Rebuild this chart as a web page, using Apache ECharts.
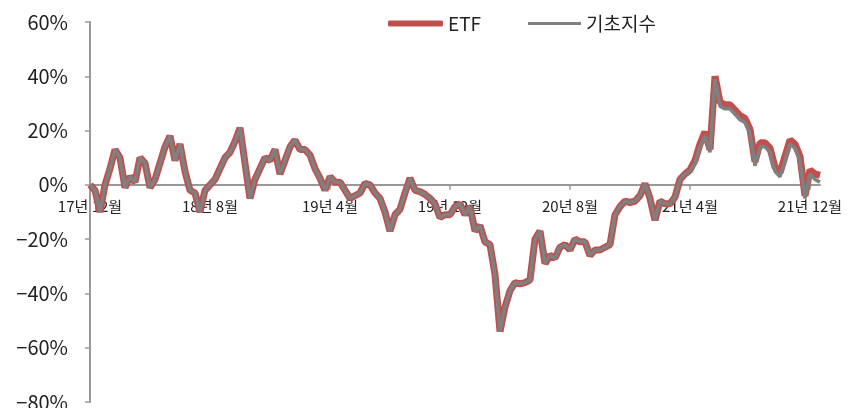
<!DOCTYPE html>
<html>
<head>
<meta charset="utf-8">
<script src="https://cdn.jsdelivr.net/npm/echarts@6/dist/echarts.min.js"></script>
<style>
html, body { margin: 0; padding: 0; background: #fff; }
#chart { width: 858px; height: 408px; }
</style>
</head>
<body>
<div id="chart"></div>
<script>
// x tick labels, every 8 months starting 17년 12월
var xTickLabels = ['17년 12월', '18년 8월', '19년 4월', '19년 12월', '20년 8월', '21년 4월', '21년 12월'];
var monthStep = 1 / 3; // one reading every third of a month
var legendNames = ['ETF', '기초지수'];

// 누적 수익률 (%)
var etfValues = [
	0, -2, -10, 0, 6, 13, 10, -1, 3, 1,
	10, 8, -1, 2, 8, 14, 18, 9, 15, 5,
	-2, -3, -10, -2, 0, 2, 6, 10, 12, 16,
	21, 8, -5, 2, 6, 10, 9, 13, 4, 9,
	14, 16.5, 13, 13, 11, 6, 2.5, -2, 3, 1,
	1, -2, -5, -4, -3, 0.5, 0, -3, -5, -10,
	-17, -11, -9, -3, 2.5, -2, -2.5, -3.5, -5, -7,
	-12, -11, -11, -8, -7, -11, -8, -17, -15, -21,
	-22, -33, -54, -45, -39, -36, -36.5, -36, -35, -20,
	-17, -29, -26, -27, -23, -22, -24, -20, -21, -21,
	-26, -24, -24, -23, -22, -11, -8, -6, -6.5, -6,
	-4, 0.5, -5, -13, -6, -7, -7, -4.5, 2, 4,
	5.5, 9, 15, 19.5, 13, 40, 30.5, 29.5, 29.5, 27.5,
	25.5, 24.5, 20.5, 8.5, 15.5, 15.5, 13.5, 6.5, 4.5, 10.5,
	16.5, 15, 10.5, -4, 5.5, 4, 3.5
];
var indexValues = [
	0, -2, -10, 0, 6, 13, 10, -1, 3, 1,
	10, 8, -1, 2, 8, 14, 18, 9, 15, 5,
	-2, -3, -10, -2, 0, 2, 6, 10, 12, 16,
	21, 8, -5, 2, 6, 10, 9, 13, 4, 9,
	14, 16.5, 13, 13, 11, 6, 2.5, -2, 3, 1,
	1, -2, -5, -4, -3, 0.5, 0, -3, -5, -10,
	-17, -11, -9, -3, 2.5, -2, -2.5, -3.5, -5, -7,
	-12, -11, -11, -8, -7, -11, -8, -17, -15, -21,
	-22, -33, -54, -45, -39, -36, -36.5, -36, -35, -20,
	-17, -29, -26, -27, -23, -22, -24, -20, -21, -21,
	-26, -24, -24, -23, -22, -11, -8, -6, -6.5, -6,
	-4, 0.5, -5, -13, -6, -7, -7, -4.5, 2, 4,
	5, 8, 14, 18, 12, 39, 29, 28, 28, 26,
	24, 23, 19, 7, 14, 14, 12, 5, 3, 9,
	15, 13.5, 9, -5, 4, 2, 1
];

var yMin = -80, yMax = 60;

function toPoints (arr) {
	return arr.map(function (v, i) { return [i * monthStep, v]; });
}

var tickPos = xTickLabels.map(function (s, i) { return i * 8; });
var fontFamily = '"Noto Sans CJK KR", "Noto Sans", sans-serif';
var legendText = { fontSize: 19, color: '#222', fontFamily: fontFamily };

var gridTop = 22, gridBottom = 6;
var gridHeight = 408 - gridTop - gridBottom;
// x축을 0% 위치로 올림
var zeroOffset = -gridHeight * (0 - yMin) / (yMax - yMin);

var chart = echarts.init(document.getElementById('chart'));
chart.setOption({
	animation: false,
	textStyle: { fontFamily: fontFamily },
	legend: [
		{
			data: [legendNames[0]],
			top: 9,
			left: 383,
			icon: 'roundRect',
			itemWidth: 55,
			itemHeight: 6,
			itemGap: 5,
			itemStyle: { color: '#c0504d' },
			textStyle: legendText
		},
		{
			data: [legendNames[1]],
			top: 9,
			left: 523,
			icon: 'rect',
			itemWidth: 53,
			itemHeight: 3,
			itemStyle: { color: '#808080' },
			textStyle: legendText
		}
	],
	grid: { left: 90, right: 38, top: gridTop, bottom: gridBottom, containLabel: false, outerBoundsMode: 'none' },
	xAxis: {
		type: 'value',
		position: 'bottom',
		offset: zeroOffset,
		min: 0,
		max: (etfValues.length - 1) * monthStep,
		splitLine: { show: false },
		axisLine: { onZero: false, lineStyle: { color: '#999', width: 2 } },
		axisTick: { show: true, length: 5, customValues: tickPos, lineStyle: { color: '#999', width: 1.5 } },
		axisLabel: {
			customValues: tickPos,
			margin: 14,
			fontSize: 15,
			color: '#222',
			fontFamily: fontFamily,
			formatter: function (v) { return xTickLabels[Math.round(v / 8)]; }
		}
	},
	yAxis: {
		type: 'value',
		min: yMin,
		max: yMax,
		interval: 20,
		splitLine: { show: false },
		axisLine: { show: true, onZero: false, lineStyle: { color: '#999', width: 2 } },
		axisTick: { show: true, length: 5, lineStyle: { color: '#999', width: 1.5 } },
		axisLabel: {
			margin: 22,
			fontSize: 20,
			color: '#222',
			fontFamily: fontFamily,
			formatter: function (v) { return (v < 0 ? '−' + (-v) : v) + '%'; }
		}
	},
	series: [
		{
			name: legendNames[0],
			type: 'line',
			data: toPoints(etfValues),
			symbol: 'none',
			lineStyle: { color: '#c0504d', width: 7 },
			itemStyle: { color: '#c0504d' }
		},
		{
			name: legendNames[1],
			type: 'line',
			data: toPoints(indexValues),
			symbol: 'none',
			lineStyle: { color: '#808080', width: 3.5 },
			itemStyle: { color: '#808080' }
		}
	]
});
</script>
</body>
</html>
